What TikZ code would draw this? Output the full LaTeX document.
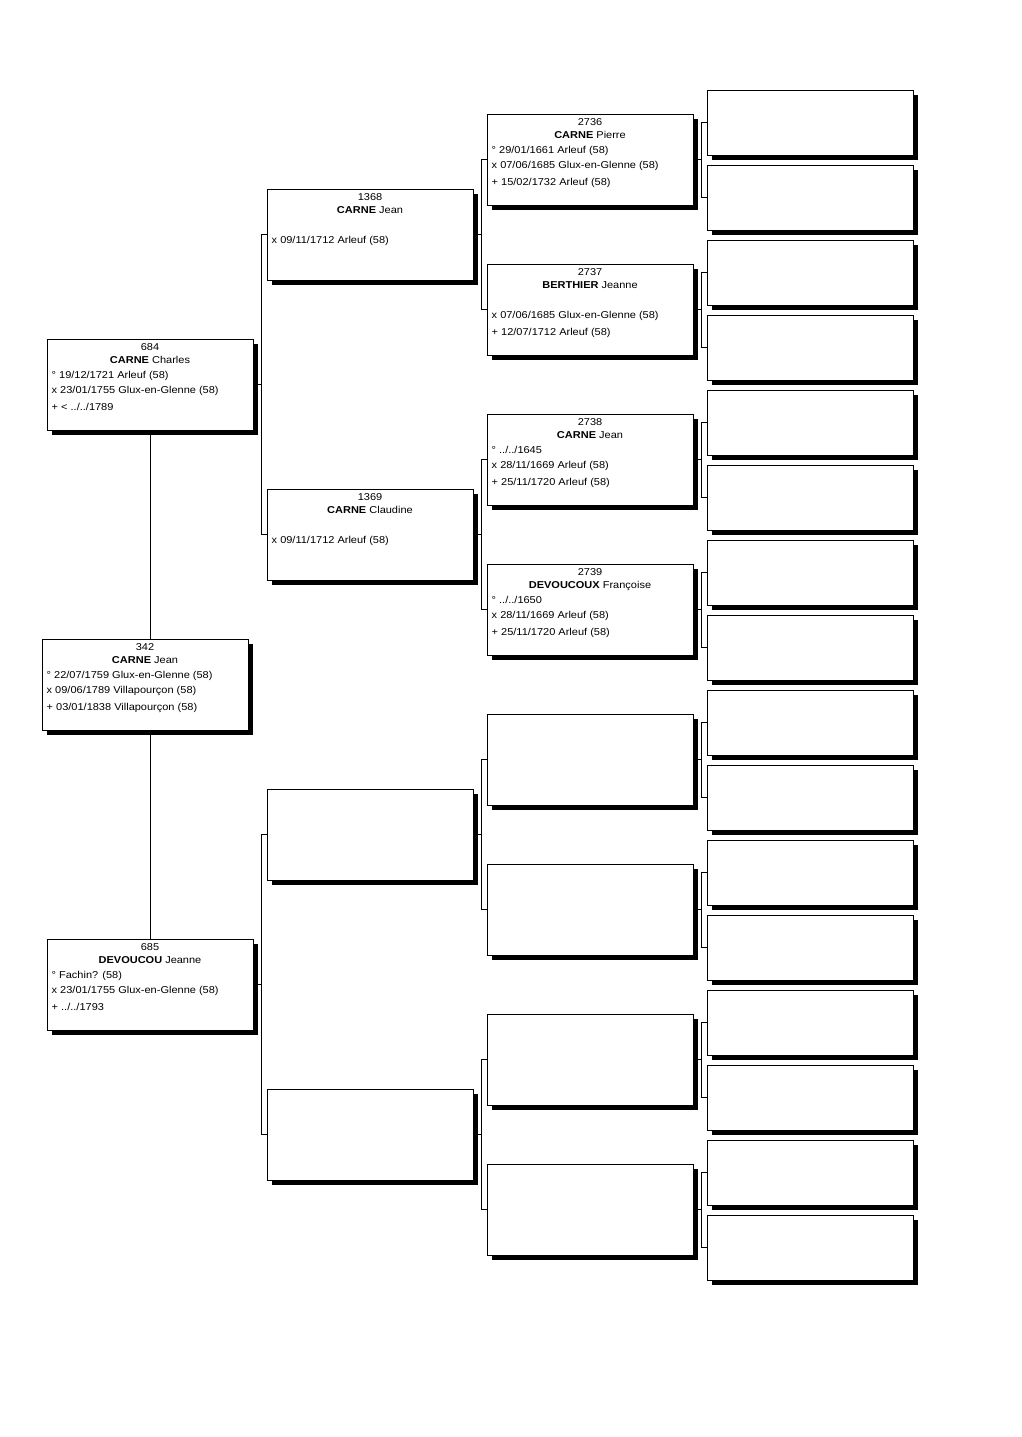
\documentclass[tikz,border=0pt]{standalone}
\usepackage{fontspec}
\setmainfont[FakeStretch=1.1]{Liberation Sans}
\usetikzlibrary{calc,shadows,backgrounds}
\newcommand\pinfo[6]{%
  \node[ctr] (#1-n) at ($(#1.north)+(0,11.5)$) {#2};
  \node[ctr] (#1-m) at ($(#1.north)+(0,24.5)$) {#3};
  \node[lft] (#1-b) at ($(#1.north west)+(5,39.5)$) {#4};
  \node[lft] (#1-x) at ($(#1.north west)+(5,54.5)$) {#5};
  \node[lft] (#1-d) at ($(#1.north west)+(5,71.5)$) {#6};}
\begin{document}
\begin{tikzpicture}[x=1pt,y=-1pt,
  font=\fontsize{10}{12}\selectfont,
  pbox/.style={draw=black, fill=white, line width=1pt, inner sep=0pt,
    minimum width=206pt, minimum height=91pt,
    drop shadow={shadow xshift=4.5pt, shadow yshift=-4.5pt, fill=black, opacity=1}},
  sbox/.style={pbox, minimum height=65pt},
  ctr/.style={anchor=base, inner sep=0pt},
  lft/.style={anchor=base west, inner sep=0pt},
  link/.style={draw=black, line width=1pt}]
\useasboundingbox (0,0) rectangle (1022,1437);
% generation 1
\node[pbox] (a684) at (150,384.5) {};
\node[pbox] (a342) at (145,684.5) {};
\node[pbox] (a685) at (150,984.5) {};
% generation 2,3,4
\foreach \i in {1,...,4} \node[pbox] (b\i) at (370,{234.5+300*(\i-1)}) {};
\foreach \i in {1,...,8} \node[pbox] (c\i) at (590,{159.5+150*(\i-1)}) {};
\foreach \i in {1,...,16} \node[sbox] (d\i) at (810,{122.5+75*(\i-1)}) {};
% texts
\pinfo{a684}{684}{\textbf{CARNE} Charles}{° 19/12/1721 Arleuf (58)}{x 23/01/1755 Glux-en-Glenne (58)}{+ < ../../1789}
\pinfo{a342}{342}{\textbf{CARNE} Jean}{° 22/07/1759 Glux-en-Glenne (58)}{x 09/06/1789 Villapourçon (58)}{+ 03/01/1838 Villapourçon (58)}
\pinfo{a685}{685}{\textbf{DEVOUCOU} Jeanne}{° Fachin? (58)}{x 23/01/1755 Glux-en-Glenne (58)}{+ ../../1793}
\pinfo{b1}{1368}{\textbf{CARNE} Jean}{}{x 09/11/1712 Arleuf (58)}{}
\pinfo{b2}{1369}{\textbf{CARNE} Claudine}{}{x 09/11/1712 Arleuf (58)}{}
\pinfo{c1}{2736}{\textbf{CARNE} Pierre}{° 29/01/1661 Arleuf (58)}{x 07/06/1685 Glux-en-Glenne (58)}{+ 15/02/1732 Arleuf (58)}
\pinfo{c2}{2737}{\textbf{BERTHIER} Jeanne}{}{x 07/06/1685 Glux-en-Glenne (58)}{+ 12/07/1712 Arleuf (58)}
\pinfo{c3}{2738}{\textbf{CARNE} Jean}{° ../../1645}{x 28/11/1669 Arleuf (58)}{+ 25/11/1720 Arleuf (58)}
\pinfo{c4}{2739}{\textbf{DEVOUCOUX} Françoise}{° ../../1650}{x 28/11/1669 Arleuf (58)}{+ 25/11/1720 Arleuf (58)}
% connectors
\begin{scope}[on background layer]
\fill[white] (0,0) rectangle (1022,1437);
\draw[link] (a684.south) -- (a684.south |- a342.north);
\draw[link] (a342.south -| a684.south) -- (a685.north);
\draw[link] (b1.west) -- ++(-5,0) |- (b2.west);
\draw[link] (a684.east) -- ([xshift=-5pt]a684.east -| b1.west);
\draw[link] (b3.west) -- ++(-5,0) |- (b4.west);
\draw[link] (a685.east) -- ([xshift=-5pt]a685.east -| b3.west);
\foreach \i in {1,...,4} {
  \pgfmathtruncatemacro\ja{2*\i-1}
  \pgfmathtruncatemacro\jb{2*\i}
  \draw[link] (c\ja.west) -- ++(-5,0) |- (c\jb.west);
  \draw[link] (b\i.east) -- ([xshift=-5pt]b\i.east -| c\ja.west);
}
\foreach \i in {1,...,8} {
  \pgfmathtruncatemacro\ja{2*\i-1}
  \pgfmathtruncatemacro\jb{2*\i}
  \draw[link] (d\ja.west) -- ++(-5,0) |- (d\jb.west);
  \draw[link] (c\i.east) -- ([xshift=-5pt]c\i.east -| d\ja.west);
}
\end{scope}
\end{tikzpicture}
\end{document}
